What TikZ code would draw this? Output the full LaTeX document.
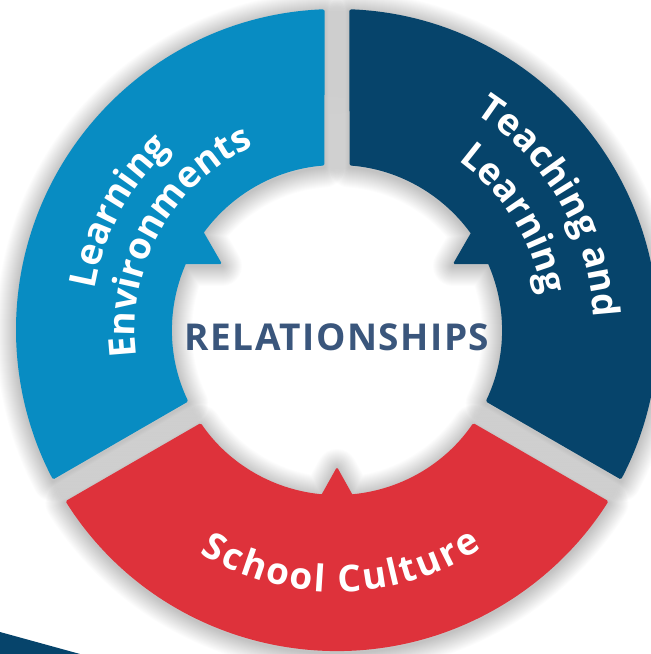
\documentclass[tikz,border=0pt]{standalone}
\usepackage{fontspec}
\usetikzlibrary{decorations.text}
\newfontfamily\labelfont{Open Sans}
\newfontfamily\hubfont[LetterSpace=4]{Open Sans}
\newcommand\ringfont{\labelfont\bfseries\fontsize{37}{40}\selectfont\color{white}}
\newcommand\trk{\kern2.2pt}
\definecolor{segblue}{HTML}{088CC2}
\definecolor{segnavy}{HTML}{06446B}
\definecolor{segred}{HTML}{DE323B}
\definecolor{hubtext}{HTML}{3A567C}

\begin{document}
\begin{tikzpicture}[x=1pt,y=1pt,
  % ring segments: outer radius 321, inner radius 165, gaps 25 wide;
  % each carries a small pointer triangle on its inner edge
  bluepath/.style={insert path={
    (92.23:321) arc[start angle=92.23,end angle=207.77,radius=321]
    -- (205.66:165) arc[start angle=205.66,end angle=94.35,radius=165] -- cycle
    (-134,99) -- (-153,66) -- (-115,66) -- cycle}},
  navypath/.style={insert path={
    (87.77:321) arc[start angle=87.77,end angle=-27.77,radius=321]
    -- (-25.66:165) arc[start angle=-25.66,end angle=85.65,radius=165] -- cycle
    (135,99) -- (154,66) -- (116,66) -- cycle}},
  redpath/.style={insert path={
    (212.23:321) arc[start angle=212.23,end angle=327.77,radius=321]
    -- (325.66:165) arc[start angle=325.66,end angle=214.34,radius=165] -- cycle
    (0,-137) -- (-19,-171) -- (19,-171) -- cycle}},
  softshadow/.style={draw=black, line width=#1, opacity=0.012, line join=round},
  ringlabel/.style={decorate, decoration={text along path, text align=center, text={|\ringfont|#1}}}
]
\useasboundingbox (-337,-324) rectangle (314,330);
\fill[white] (-337,-324) rectangle (314,330);

% corner band
\fill[segnavy] (-337,-302) -- (-257,-324) -- (-337,-324) -- cycle;

% soft shadows under the segments
\foreach \w in {2,4,...,40}{
  \draw[yshift=-2pt, softshadow=\w pt, bluepath];
  \draw[yshift=-2pt, softshadow=\w pt, navypath];
  \draw[yshift=-2pt, softshadow=\w pt, redpath];
}

% segments
\fill[segblue, rounded corners=1.5pt, bluepath];
\fill[segnavy, rounded corners=1.5pt, navypath];
\fill[segred, rounded corners=1.5pt, redpath];

% curved labels
\path[ringlabel=Learning] (211.5:246) arc[start angle=211.5,end angle=91.5,radius=246];
\path[ringlabel=Environments] (211:202) arc[start angle=211,end angle=91,radius=202];
\path[ringlabel=Teaching and] (90:257) arc[start angle=90,end angle=-30,radius=257];
\path[ringlabel=Learning] (92:208) arc[start angle=92,end angle=-28,radius=208];
\path[ringlabel={{S\trk}{c\trk}{h\trk}{o\trk}{o\trk}{l\trk}{ \trk}{C\trk}{u\trk}{l\trk}{t\trk}{u\trk}{r\trk}e}]
  (-149:262) arc[start angle=-149,end angle=-29,radius=262];

% centre label
\node[font=\hubfont\bfseries\fontsize{37}{40}\selectfont, text=hubtext, anchor=base, inner sep=0pt] (hub) at (0,-20) {RELATIONSHIPS};
\end{tikzpicture}
\end{document}
